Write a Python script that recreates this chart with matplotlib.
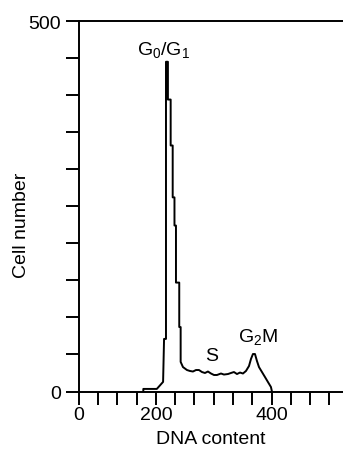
import matplotlib
matplotlib.use('Agg')
import matplotlib.pyplot as plt

# Settings
plt.rcParams.update({
    "font.family": "Liberation Sans",
    "mathtext.fontset": "custom",
    "mathtext.rm": "Liberation Sans",
    "mathtext.it": "Liberation Sans",
})

# DNA histogram trace (channel, cell count)
dna = [134, 134, 162, 175, 177, 181, 181, 185, 185, 190.7, 190.7, 194.9, 194.9,
       198.6, 198.6, 201.7, 201.7, 208.5, 208.5, 211.4, 211.4, 216.2, 224.5,
       230.7, 236.9, 243.2, 249.4, 255.6, 261.8, 268.0, 274.3, 280.5, 286.7,
       295.0, 301.2, 309.5, 315.7, 321.9, 328.2, 334.4, 340.6, 346.8, 353.1,
       357.2, 361.3, 365.5, 369.6, 373.8, 380.0, 386.2, 392.4, 398.6, 400.7]
cells = [0, 3.5, 3.5, 13, 71, 71, 445, 445, 394, 394, 332, 332, 262,
         262, 224, 224, 147, 147, 87, 87, 40, 33, 29,
         27.7, 27, 29, 29, 26.3, 25, 27, 24.3, 22.3, 22.3,
         24.3, 22.9, 23.6, 25, 26.3, 23.6, 25.6, 24.3, 27.7, 34.4,
         43.9, 50.6, 50.6, 41.2, 33, 26.3, 19.6, 12.8, 6.1, 0]

xtick_pos = [0, 160, 400]
xtick_lab = ['0', '200', '400']
ytick_pos = [0, 500]
ytick_lab = ['0', '500']

phase_labels = [r'G$_0$/G$_1$', 'S', r'G$_2$M']
phase_x = [175, 276, 372]
phase_y = [462, 48, 75]

fig = plt.figure(figsize=(3.43, 4.52), dpi=100)
ax = fig.add_axes([0.2294, 0.1316, 0.7706, 0.8197])

ax.plot(dna, cells, color='black', lw=1.4)

for lab, x, y in zip(phase_labels, phase_x, phase_y):
    ax.text(x, y, lab, ha='center', va='center', fontsize=14)

ax.set_xlim(0, 548)
ax.set_ylim(0, 500)

ax.set_xticks(xtick_pos)
ax.set_xticklabels(xtick_lab)
ax.set_xticks(range(0, 548, 40), minor=True)
ax.set_yticks(ytick_pos)
ax.set_yticklabels(ytick_lab)
ax.set_yticks(range(0, 501, 50), minor=True)

ax.tick_params(which='both', direction='out', length=9.5, width=1.4, labelsize=14)
ax.tick_params(axis='x', pad=1)
ax.tick_params(axis='y', pad=3)

ax.spines['right'].set_visible(False)
for s in ['left', 'bottom', 'top']:
    ax.spines[s].set_linewidth(1.4)

ax.set_xlabel('DNA content', fontsize=14, labelpad=5)
ax.set_ylabel('Cell number', fontsize=14)
ax.yaxis.set_label_coords(-0.185, 0.45)

fig.savefig('out.png', dpi=100)
